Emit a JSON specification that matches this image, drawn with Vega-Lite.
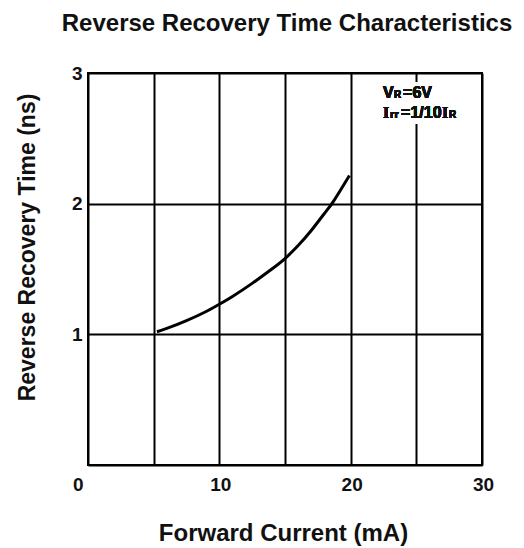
{
  "$schema": "https://vega.github.io/schema/vega-lite/v6.json",
  "width": 394,
  "height": 392,
  "autosize": "none",
  "padding": {"left": 88, "top": 73, "right": 42, "bottom": 83},
  "background": "white",
  "config": {
    "font": "Liberation Sans",
    "view": {"stroke": "black", "strokeWidth": 2}
  },
  "title": {
    "text": "Reverse Recovery Time Characteristics",
    "fontSize": 24,
    "fontWeight": "bold",
    "font": "Liberation Sans",
    "color": "#111",
    "anchor": "middle",
    "baseline": "alphabetic",
    "offset": 9,
    "dx": 2
  },
  "data": {
    "values": [
      {"current": 5.25, "time": 1.02},
      {"current": 6.0, "time": 1.045},
      {"current": 7.5, "time": 1.105},
      {"current": 9.0, "time": 1.175},
      {"current": 10.0, "time": 1.23},
      {"current": 11.0, "time": 1.29},
      {"current": 12.5, "time": 1.39},
      {"current": 14.0, "time": 1.5},
      {"current": 15.0, "time": 1.58},
      {"current": 16.0, "time": 1.68},
      {"current": 17.0, "time": 1.795},
      {"current": 18.0, "time": 1.925},
      {"current": 18.7, "time": 2.02},
      {"current": 19.9, "time": 2.215}
    ]
  },
  "layer": [
    {
      "mark": {"type": "line", "color": "black", "strokeWidth": 3, "interpolate": "natural"},
      "encoding": {
        "x": {
          "field": "current",
          "type": "quantitative",
          "scale": {"domain": [0, 30], "nice": false},
          "axis": {
            "title": "Forward Current (mA)",
            "titleFontSize": 24,
            "titleFontWeight": "bold",
            "titleColor": "#111",
            "titleX": 195,
            "titleY": 75,
            "titleBaseline": "alphabetic",
            "values": [0, 5, 10, 15, 20, 25, 30],
            "format": "d",
            "labelExpr": "datum.value % 10 == 0 ? datum.label : ''",
            "labelFontSize": 19,
            "labelFontWeight": "bold",
            "labelColor": "#111",
            "labelFlush": false,
            "labelOverlap": false,
            "labelPadding": 10,
            "labelAlign": {"condition": {"test": "datum.value == 0", "value": "right"}, "value": "center"},
            "labelOffset": {"condition": {"test": "datum.value == 0", "value": -5}, "value": 1},
            "ticks": false,
            "domain": false,
            "grid": true,
            "gridColor": "black",
            "gridWidth": 2,
            "gridOpacity": 1
          }
        },
        "y": {
          "field": "time",
          "type": "quantitative",
          "scale": {"domain": [0, 3], "nice": false},
          "axis": {
            "title": "Reverse Recovery Time (ns)",
            "titleFontSize": 23,
            "titleFontWeight": "bold",
            "titleColor": "#111",
            "titleX": -61,
            "titleY": 174,
            "titleAngle": -90,
            "titleBaseline": "middle",
            "titleAlign": "center",
            "values": [0, 0.5, 1, 1.5, 2, 2.5, 3],
            "format": "d",
            "labelExpr": "datum.value % 1 == 0 && datum.value > 0 ? format(datum.value, 'd') : ''",
            "labelFontSize": 19,
            "labelFontWeight": "bold",
            "labelColor": "#111",
            "labelFlush": false,
            "labelOverlap": false,
            "labelPadding": 6,
            "ticks": false,
            "domain": false,
            "grid": true,
            "gridColor": "black",
            "gridWidth": 2,
            "gridOpacity": 1
          }
        }
      }
    },
    {
      "mark": {"type": "rect", "color": "white"},
      "encoding": {
        "x": {"datum": 24.5, "type": "quantitative"},
        "x2": {"datum": 25.5},
        "y": {"datum": 2.61, "type": "quantitative"},
        "y2": {"datum": 2.93}
      }
    },
    {
      "mark": {"type": "text", "text": "V", "fontSize": 16, "fontWeight": "bold", "align": "left", "baseline": "alphabetic", "color": "#111"},
      "encoding": {"x": {"datum": 22.47, "type": "quantitative"}, "y": {"datum": 2.809, "type": "quantitative"}}
    },
    {
      "mark": {"type": "text", "text": "R", "fontSize": 10, "fontWeight": "bold", "align": "left", "baseline": "alphabetic", "dx": 11, "color": "#111"},
      "encoding": {"x": {"datum": 22.47, "type": "quantitative"}, "y": {"datum": 2.809, "type": "quantitative"}}
    },
    {
      "mark": {"type": "text", "text": "=6V", "fontSize": 16, "fontWeight": "bold", "align": "left", "baseline": "alphabetic", "dx": 20, "color": "#111"},
      "encoding": {"x": {"datum": 22.47, "type": "quantitative"}, "y": {"datum": 2.809, "type": "quantitative"}}
    },
    {
      "mark": {"type": "text", "text": "I", "fontSize": 16, "fontWeight": "bold", "align": "left", "baseline": "alphabetic", "font": "Liberation Serif", "color": "#111"},
      "encoding": {"x": {"datum": 22.47, "type": "quantitative"}, "y": {"datum": 2.656, "type": "quantitative"}}
    },
    {
      "mark": {"type": "text", "text": "rr", "fontSize": 11, "fontWeight": "bold", "align": "left", "baseline": "alphabetic", "dx": 7, "color": "#111"},
      "encoding": {"x": {"datum": 22.47, "type": "quantitative"}, "y": {"datum": 2.656, "type": "quantitative"}}
    },
    {
      "mark": {"type": "text", "text": "=1/10", "fontSize": 16, "fontWeight": "bold", "align": "left", "baseline": "alphabetic", "dx": 18, "color": "#111"},
      "encoding": {"x": {"datum": 22.47, "type": "quantitative"}, "y": {"datum": 2.656, "type": "quantitative"}}
    },
    {
      "mark": {"type": "text", "text": "I", "fontSize": 16, "fontWeight": "bold", "align": "left", "baseline": "alphabetic", "dx": 59, "font": "Liberation Serif", "color": "#111"},
      "encoding": {"x": {"datum": 22.47, "type": "quantitative"}, "y": {"datum": 2.656, "type": "quantitative"}}
    },
    {
      "mark": {"type": "text", "text": "R", "fontSize": 10, "fontWeight": "bold", "align": "left", "baseline": "alphabetic", "dx": 66, "color": "#111"},
      "encoding": {"x": {"datum": 22.47, "type": "quantitative"}, "y": {"datum": 2.656, "type": "quantitative"}}
    }
  ]
}
